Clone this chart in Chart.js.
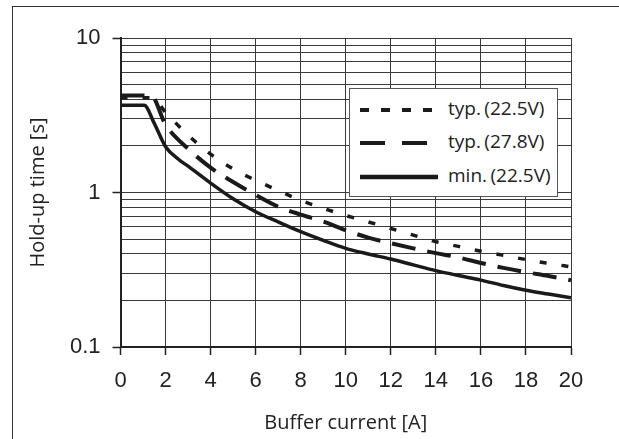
<!DOCTYPE html>
<html>
<head>
<meta charset="utf-8">
<script src="https://cdn.jsdelivr.net/npm/chart.js@4/dist/chart.umd.min.js"></script>
<style>
  html,body{margin:0;padding:0;background:#fff;}
  #wrap{position:relative;width:619px;height:439px;overflow:hidden;}
  #frame{position:absolute;left:12px;top:6px;width:700px;height:500px;border-left:1.5px solid #333;border-top:1.5px solid #333;}
  #c{position:absolute;left:0;top:0;}
  #lg{position:absolute;left:349px;top:88px;width:207px;height:107px;background:#fff;border:1px solid #555;
      font-family:'Open Sans',sans-serif;font-size:19px;color:#222;}
  #lg div{position:absolute;left:10px;height:24px;line-height:24px;white-space:nowrap;word-spacing:-1.5px;}
  #lg svg{vertical-align:middle;margin-right:10px;}
</style>
</head>
<body>
<div id="wrap">
  <div id="frame"></div>
  <canvas id="c" width="619" height="439"></canvas>
  <div id="lg"></div>
</div>
<script>
/* Hold-up time vs buffer current */

// typ. (22.5V) – dotted
const TYP225_X = [0, 1.4, 2, 3, 4, 5, 6, 7, 8, 9, 10, 11, 12, 13, 14, 15, 16, 17, 18, 19, 20];
const TYP225_Y = [4.1, 4.1, 3.3, 2.35, 1.77, 1.42, 1.2, 1.03, 0.89, 0.79, 0.71, 0.645, 0.585, 0.53, 0.48, 0.448, 0.417, 0.392, 0.368, 0.348, 0.33];

// typ. (27.8V) – dashed
const TYP278_X = [0, 1.35, 2, 3, 4, 5, 6, 7, 8, 9, 10, 11, 12, 13, 14, 15, 16, 17, 18, 19, 20];
const TYP278_Y = [4.25, 4.25, 2.75, 1.92, 1.45, 1.17, 0.965, 0.81, 0.72, 0.65, 0.57, 0.51, 0.47, 0.435, 0.405, 0.38, 0.35, 0.325, 0.305, 0.288, 0.27];

// min. (22.5V) – solid
const MIN225_X = [0, 1.05, 1.5, 2, 2.6, 3, 4, 5, 6, 7, 8, 9, 10, 11, 12, 13, 14, 15, 16, 17, 18, 19, 20];
const MIN225_Y = [3.67, 3.67, 2.8, 1.98, 1.63, 1.48, 1.15, 0.91, 0.75, 0.645, 0.558, 0.49, 0.435, 0.4, 0.371, 0.34, 0.312, 0.29, 0.271, 0.25, 0.233, 0.22, 0.208];

const Y_GRID   = [0.1,0.2,0.3,0.4,0.5,0.6,0.7,0.8,0.9,1,2,3,4,5,6,7,8,9,10];
const Y_LABELS = [0.1, 1, 10];
const X_MIN = 0, X_MAX = 20, X_STEP = 2;

const LABELS = ['typ. (22.5V)', 'typ. (27.8V)', 'min. (22.5V)'];
const DASHES = [[7,15], [24,12], []];
const WIDTHS = [3.5, 4, 3.5];
const INK = '#1a1a1a';

function pts(xs, ys){ return xs.map((x,i)=>({x, y:ys[i]})); }

const series = [pts(TYP225_X,TYP225_Y), pts(TYP278_X,TYP278_Y), pts(MIN225_X,MIN225_Y)];

const TICKFONT  = {family:"'Liberation Sans',Arial,sans-serif", size:22};
const TITLEFONT = {family:"'Open Sans',sans-serif", size:20};

new Chart(document.getElementById('c'), {
  type:'line',
  data:{
    datasets: series.map((d,i)=>({
      label:LABELS[i], data:d,
      borderColor:INK, backgroundColor:'transparent',
      borderWidth:WIDTHS[i], borderDash:DASHES[i], borderCapStyle:'butt',
      pointRadius:0, fill:false, cubicInterpolationMode:'monotone'
    }))
  },
  options:{
    responsive:false, animation:false, devicePixelRatio:1,
    layout:{padding:{left:0, top:38, right:48, bottom:0}},
    plugins:{legend:{display:false}, tooltip:{enabled:false}},
    scales:{
      x:{
        type:'linear', min:X_MIN, max:X_MAX,
        afterFit:s=>{ s.height = 92; },
        ticks:{stepSize:X_STEP, color:'#222', font:TICKFONT, padding:13, maxRotation:0},
        grid:{color:'#3a3a3a', lineWidth:1, tickLength:8, tickColor:'#222', tickWidth:1.5},
        border:{color:'#222', width:2},
        title:{display:true, text:'Buffer current [A]', color:'#222', font:TITLEFONT, padding:{top:0,bottom:4}}
      },
      y:{
        type:'logarithmic', min:0.1, max:10,
        afterFit:s=>{ s.width = 120.5; },
        afterBuildTicks:s=>{ s.ticks = Y_GRID.map(v=>({value:v})); },
        ticks:{color:'#222', font:TICKFONT, padding:12, autoSkip:false,
               callback:v=> Y_LABELS.includes(v) ? String(v) : ''},
        grid:{color:'#3a3a3a', lineWidth:1, tickLength:8, tickWidth:1.5,
              tickColor:ctx=> (ctx.tick && Y_LABELS.includes(ctx.tick.value)) ? '#222' : 'rgba(0,0,0,0)'},
        border:{color:'#222', width:2},
        title:{display:true, text:'Hold-up time [s]', color:'#222', font:TITLEFONT, padding:{top:26,bottom:0}}
      }
    }
  }
});

/* legend box drawn in HTML, same dash patterns as the lines */
const lg = document.getElementById('lg');
const ROW_TOP = [7, 40, 74];
lg.innerHTML = LABELS.map((t,i)=>
  `<div style="top:${ROW_TOP[i]}px"><svg width="78" height="8"><line x1="0" y1="4" x2="78" y2="4" stroke="${INK}" stroke-width="${i===2?4.5:4}" stroke-dasharray="${i===0?'9,12':(i===1?'25,17':'none')}"/></svg>${t}</div>`
).join('');
</script>
</body>
</html>
